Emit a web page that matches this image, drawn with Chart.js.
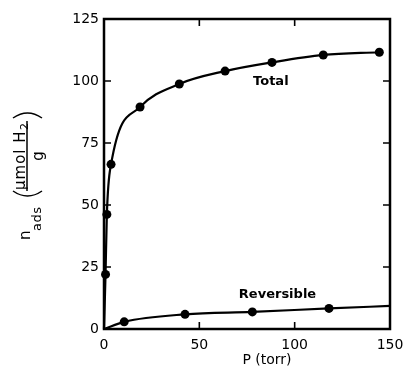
<!DOCTYPE html>
<html>
<head>
<meta charset="utf-8">
<script src="https://cdn.jsdelivr.net/npm/chart.js@4"></script>
<style>
html,body{margin:0;padding:0;background:#fff;}
canvas{display:block;}
</style>
</head>
<body>
<canvas id="c" width="407" height="368"></canvas>
<script>
// ---- data ----
const totalP = [0, 0.8, 1.5, 3.7, 18.9, 39.5, 63.5, 88.1, 115, 144.4];
const totalN = [0, 22, 46.2, 66.4, 89.5, 98.8, 104, 107.5, 110.5, 111.6];
const totalMarked = [false, true, true, true, true, true, true, true, true, true];

const reversibleP = [0, 10.6, 42.5, 77.8, 118, 150];
const reversibleN = [0, 2.9, 5.9, 6.9, 8.3, 9.3];
const reversibleMarked = [false, true, true, true, true, false];

const xTicks = [0, 50, 100, 150];
const yTicks = [0, 25, 50, 75, 100, 125];
const seriesLabels = ["Total", "Reversible"];
const labelPos = [{p: 87.5, n: 99.7}, {p: 91, n: 14}];
const xTitle = "P (torr)";

function toPoints(xs, ys) { return xs.map((x, i) => ({x: x, y: ys[i]})); }

const FONT = "DejaVu Sans";

const frame = {
  id: 'frame',
  afterDraw(chart) {
    const ctx = chart.ctx, a = chart.chartArea;
    const xs = chart.scales.x, ys = chart.scales.y;
    ctx.save();
    ctx.strokeStyle = '#000';
    ctx.lineWidth = 2.5;
    ctx.strokeRect(a.left, a.top, a.right - a.left, a.bottom - a.top);
    ctx.lineWidth = 1.6;
    const tl = 7;
    ctx.beginPath();
    yTicks.slice(1, -1).forEach(v => {
      const y = ys.getPixelForValue(v);
      ctx.moveTo(a.left, y); ctx.lineTo(a.left + tl, y);
      ctx.moveTo(a.right, y); ctx.lineTo(a.right - tl, y);
    });
    xTicks.slice(1, -1).forEach(v => {
      const x = xs.getPixelForValue(v);
      ctx.moveTo(x, a.bottom); ctx.lineTo(x, a.bottom - tl);
      ctx.moveTo(x, a.top); ctx.lineTo(x, a.top + tl);
    });
    ctx.stroke();

    // series labels
    ctx.fillStyle = '#000';
    ctx.font = 'bold 13px "' + FONT + '"';
    ctx.textAlign = 'center';
    ctx.textBaseline = 'middle';
    seriesLabels.forEach((t, i) => {
      ctx.fillText(t, xs.getPixelForValue(labelPos[i].p), ys.getPixelForValue(labelPos[i].n));
    });

    // x title
    ctx.font = '14px "' + FONT + '"';
    ctx.fillText(xTitle, 267, 360);

    // y title (rotated)
    function rot(text, sx, sy, font, align, spacing) {
      ctx.save();
      ctx.translate(sx, sy);
      ctx.rotate(-Math.PI / 2);
      ctx.font = font;
      if (spacing) ctx.letterSpacing = spacing;
      ctx.textAlign = align;
      ctx.textBaseline = 'alphabetic';
      ctx.fillText(text, 0, 0);
      ctx.restore();
    }
    rot('n', 30, 240, '15px "' + FONT + '"', 'left');
    rot('ads', 41, 231, '13px "' + FONT + '"', 'left', '0.5px');
    rot('\u03BCmol H', 25, 190, '15px "' + FONT + '"', 'left', '1px');
    rot('2', 28, 130, '11px "' + FONT + '"', 'left');
    rot('g', 43, 156, '15px "' + FONT + '"', 'center');
    ctx.lineWidth = 1.5;
    ctx.beginPath();
    ctx.moveTo(27, 191); ctx.lineTo(27, 121);
    ctx.stroke();
    // parentheses (rotated): arcs
    ctx.lineWidth = 1.5;
    ctx.beginPath();
    ctx.moveTo(13, 191); ctx.quadraticCurveTo(27.5, 201, 42, 191);
    ctx.stroke();
    ctx.beginPath();
    ctx.moveTo(13, 118); ctx.quadraticCurveTo(27.5, 108, 42, 118);
    ctx.stroke();
    ctx.restore();
  }
};

const bg = {
  id: 'bg',
  beforeDraw(chart) {
    const ctx = chart.ctx;
    ctx.save();
    ctx.fillStyle = '#fff';
    ctx.fillRect(0, 0, chart.width, chart.height);
    ctx.restore();
  }
};

function radiusFrom(marks) { return ctx => marks[ctx.dataIndex] ? 4.5 : 0; }

new Chart(document.getElementById('c'), {
  type: 'scatter',
  data: {
    datasets: [
      {
        label: seriesLabels[0],
        data: toPoints(totalP, totalN),
        showLine: true,
        borderColor: '#000',
        backgroundColor: '#000',
        borderWidth: 2.2,
        pointRadius: radiusFrom(totalMarked),
        pointBorderWidth: 0,
        cubicInterpolationMode: 'monotone'
      },
      {
        label: seriesLabels[1],
        data: toPoints(reversibleP, reversibleN),
        showLine: true,
        borderColor: '#000',
        backgroundColor: '#000',
        borderWidth: 2.2,
        pointRadius: radiusFrom(reversibleMarked),
        pointBorderWidth: 0,
        cubicInterpolationMode: 'monotone'
      }
    ]
  },
  options: {
    responsive: false,
    animation: false,
    devicePixelRatio: 1,
    clip: false,
    layout: { padding: { left: 0, right: 17, top: 19, bottom: 0 } },
    plugins: { legend: { display: false }, tooltip: { enabled: false } },
    scales: {
      x: {
        type: 'linear', min: 0, max: 150,
        afterFit(s) { s.height = 39; s.paddingLeft = 0; s.paddingRight = 0; },
        afterBuildTicks(s) { s.ticks = xTicks.map(v => ({value: v})); },
        grid: { display: false, drawTicks: false },
        border: { display: false },
        ticks: { padding: 8, color: '#000', font: { family: FONT, size: 14 }, maxRotation: 0 }
      },
      y: {
        type: 'linear', min: 0, max: 125,
        afterFit(s) { s.width = 104; s.paddingTop = 0; s.paddingBottom = 0; },
        afterBuildTicks(s) { s.ticks = yTicks.map(v => ({value: v})); },
        grid: { display: false, drawTicks: false },
        border: { display: false },
        ticks: { padding: 5, color: '#000', font: { family: FONT, size: 14 } }
      }
    }
  },
  plugins: [bg, frame]
});
</script>
</body>
</html>
